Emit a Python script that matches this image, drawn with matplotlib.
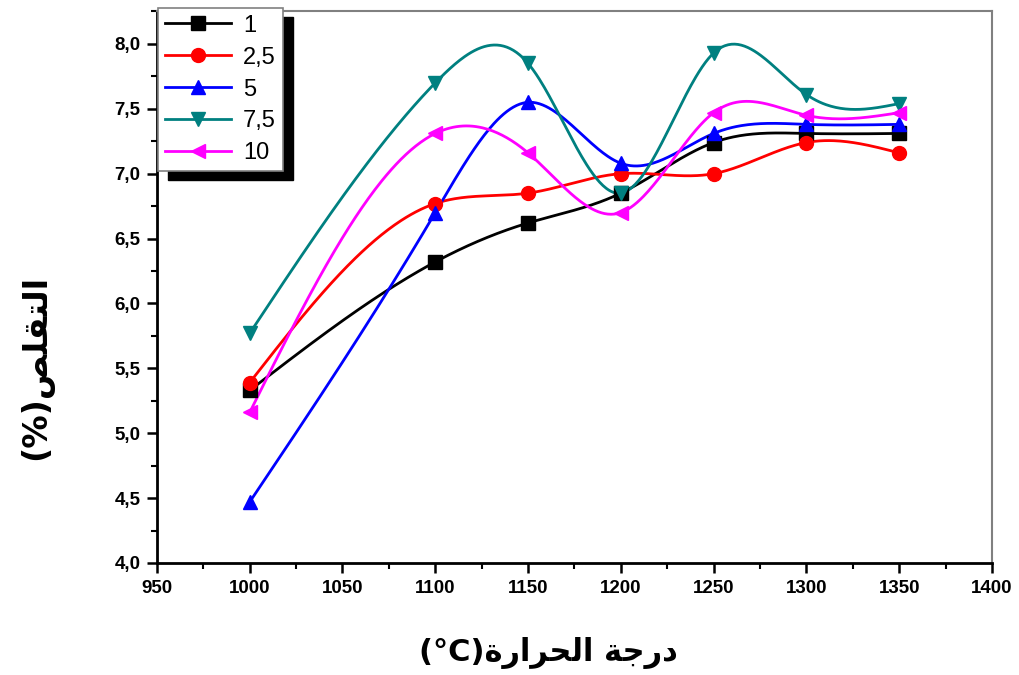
import numpy as np
import matplotlib
matplotlib.use("Agg")
import matplotlib.pyplot as plt
from matplotlib.lines import Line2D
from matplotlib.patches import Rectangle
from matplotlib.ticker import MultipleLocator, FuncFormatter

# Data
temps = [1000, 1100, 1150, 1200, 1250, 1300, 1350]
s1 = [5.33, 6.32, 6.62, 6.85, 7.24, 7.31, 7.31]
s25 = [5.39, 6.77, 6.85, 7.00, 7.00, 7.24, 7.16]
s5 = [4.47, 6.70, 7.55, 7.08, 7.31, 7.38, 7.38]
s75 = [5.77, 7.70, 7.85, 6.85, 7.93, 7.61, 7.54]
s10 = [5.16, 7.31, 7.16, 6.70, 7.47, 7.45, 7.47]
labels = ["1", "2,5", "5", "7,5", "10"]
colors = ["black", "red", "blue", "#008080", "magenta"]
markers = ["s", "o", "^", "v", "<"]

# Arabic labels, shaped by hand (presentation forms, visual order)
xlab = "(°C)" + "\uFE93\uFEAD\uFE8D\uFEAE\uFEA4\uFEDF\uFE8D" + " " + "\uFE94\uFE9F\uFEAD\uFEA9"
ylab = "(%)" + "\uFEBA\uFEE0\uFED8\uFE98\uFEDF\uFE8D"


def spline(x, y, n=400):
    # natural cubic spline through the points (for the smooth connecting line)
    x = np.asarray(x, float)
    y = np.asarray(y, float)
    k = len(x)
    h = np.diff(x)
    A = np.zeros((k, k))
    b = np.zeros(k)
    A[0, 0] = 1
    A[-1, -1] = 1
    for i in range(1, k - 1):
        A[i, i - 1] = h[i - 1]
        A[i, i] = 2 * (h[i - 1] + h[i])
        A[i, i + 1] = h[i]
        b[i] = 6 * ((y[i + 1] - y[i]) / h[i] - (y[i] - y[i - 1]) / h[i - 1])
    M = np.linalg.solve(A, b)
    xs = np.linspace(x[0], x[-1], n)
    idx = np.clip(np.searchsorted(x, xs) - 1, 0, k - 2)
    x0, x1 = x[idx], x[idx + 1]
    hh = x1 - x0
    ys = (M[idx] * (x1 - xs) ** 3 / (6 * hh) + M[idx + 1] * (xs - x0) ** 3 / (6 * hh)
          + (y[idx] / hh - M[idx] * hh / 6) * (x1 - xs)
          + (y[idx + 1] / hh - M[idx + 1] * hh / 6) * (xs - x0))
    return xs, ys


tickfont = ["Liberation Sans Narrow", "Liberation Sans", "DejaVu Sans"]

fig = plt.figure(figsize=(10.19, 6.75), dpi=100)
ax = fig.add_axes([0.154, 0.166, 0.8195, 0.817])

handles = []
for ys_data, c, m, lab in zip([s1, s25, s5, s75, s10], colors, markers, labels):
    xs, ys = spline(temps, ys_data)
    ax.plot(xs, ys, color=c, lw=2.0, zorder=2)
    ax.plot(temps, ys_data, ls="none", marker=m, color=c, markersize=10, zorder=3)
    handles.append(Line2D([], [], color=c, lw=2.0, marker=m, markersize=10, label=lab))

ax.set_xlim(950, 1400)
ax.set_ylim(4.0, 8.25)
ax.xaxis.set_major_locator(MultipleLocator(50))
ax.xaxis.set_minor_locator(MultipleLocator(25))
ax.yaxis.set_major_locator(MultipleLocator(0.5))
ax.yaxis.set_minor_locator(MultipleLocator(0.25))
ax.yaxis.set_major_formatter(FuncFormatter(lambda v, p: f"{v:.1f}".replace(".", ",")))
ax.tick_params(which="major", direction="out", length=7, width=1.8, pad=5)
ax.tick_params(which="minor", direction="out", length=4, width=1.5)
for t in ax.get_xticklabels() + ax.get_yticklabels():
    t.set_family(tickfont)
    t.set_fontweight("bold")
    t.set_fontsize(13.5)

ax.spines["left"].set_linewidth(2.0)
ax.spines["bottom"].set_linewidth(2.0)
ax.spines["top"].set_color("#808080")
ax.spines["right"].set_color("#808080")
ax.spines["top"].set_linewidth(1.5)
ax.spines["right"].set_linewidth(1.5)

fig.text(0.538, 0.033, xlab, ha="center", va="center", fontsize=22,
         fontweight="bold", family="DejaVu Sans")
fig.text(0.035, 0.455, ylab, ha="center", va="center", rotation=90, fontsize=24,
         fontweight="bold", family="DejaVu Sans")

leg = ax.legend(handles=handles, loc="upper left", bbox_to_anchor=(0.001, 1.007),
                borderaxespad=0, fancybox=False, framealpha=1,
                prop={"family": ["Liberation Sans", "DejaVu Sans"], "size": 17},
                edgecolor="#808080", handlelength=2.8, handletextpad=0.5,
                borderpad=0.3, labelspacing=0.42)
leg.get_frame().set_linewidth(1.2)
leg.set_zorder(6)

# offset black shadow behind the legend
fig.canvas.draw()
bb = leg.get_window_extent().transformed(ax.transAxes.inverted())
dx = 10 / ax.bbox.width
dy = 9 / ax.bbox.height
ax.add_patch(Rectangle((bb.x0 + dx, bb.y0 - dy), bb.width, bb.height,
                       transform=ax.transAxes, color="black", clip_on=False, zorder=5))

fig.savefig("out.png", dpi=100)
